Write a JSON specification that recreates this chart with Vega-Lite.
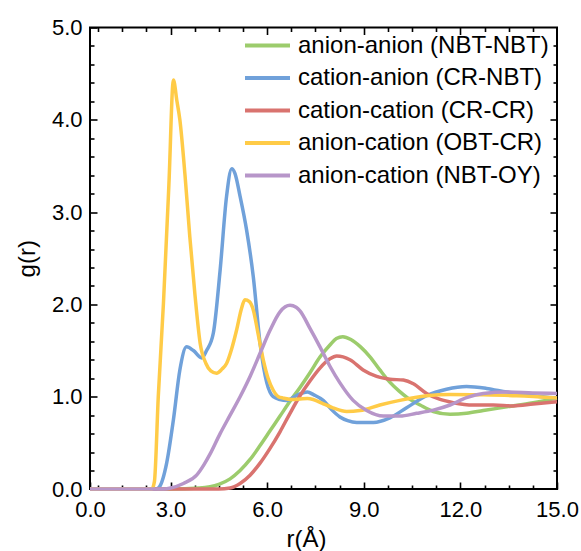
{
  "$schema": "https://vega.github.io/schema/vega-lite/v6.json",
  "width": 467,
  "height": 461.5,
  "autosize": {"type": "none"},
  "padding": {"left": 90, "top": 27.5, "right": 24, "bottom": 62},
  "config": {
    "font": "Liberation Sans",
    "view": {"stroke": "#000000", "strokeWidth": 2},
    "axis": {"grid": false, "domain": false, "ticks": true, "zindex": 2, "tickColor": "#000000", "tickWidth": 1.6, "tickOpacity": 1, "labelColor": "#000000", "titleColor": "#000000", "titleFontWeight": "normal"}
  },
  "data": {"values": [
      {"s": "anion-anion (NBT-NBT)", "r": 0.5, "g": 0},
      {"s": "anion-anion (NBT-NBT)", "r": 3.0, "g": 0},
      {"s": "anion-anion (NBT-NBT)", "r": 3.9, "g": 0.01},
      {"s": "anion-anion (NBT-NBT)", "r": 4.5, "g": 0.05},
      {"s": "anion-anion (NBT-NBT)", "r": 4.85, "g": 0.11},
      {"s": "anion-anion (NBT-NBT)", "r": 5.16, "g": 0.2},
      {"s": "anion-anion (NBT-NBT)", "r": 5.47, "g": 0.32},
      {"s": "anion-anion (NBT-NBT)", "r": 5.78, "g": 0.47},
      {"s": "anion-anion (NBT-NBT)", "r": 6.09, "g": 0.63},
      {"s": "anion-anion (NBT-NBT)", "r": 6.4, "g": 0.79},
      {"s": "anion-anion (NBT-NBT)", "r": 6.71, "g": 0.95},
      {"s": "anion-anion (NBT-NBT)", "r": 7.02, "g": 1.1},
      {"s": "anion-anion (NBT-NBT)", "r": 7.33, "g": 1.26},
      {"s": "anion-anion (NBT-NBT)", "r": 7.64, "g": 1.43},
      {"s": "anion-anion (NBT-NBT)", "r": 7.95, "g": 1.56},
      {"s": "anion-anion (NBT-NBT)", "r": 8.15, "g": 1.63},
      {"s": "anion-anion (NBT-NBT)", "r": 8.35, "g": 1.65},
      {"s": "anion-anion (NBT-NBT)", "r": 8.6, "g": 1.62},
      {"s": "anion-anion (NBT-NBT)", "r": 8.9, "g": 1.54},
      {"s": "anion-anion (NBT-NBT)", "r": 9.2, "g": 1.43},
      {"s": "anion-anion (NBT-NBT)", "r": 9.5, "g": 1.29},
      {"s": "anion-anion (NBT-NBT)", "r": 9.8, "g": 1.16},
      {"s": "anion-anion (NBT-NBT)", "r": 10.1, "g": 1.06},
      {"s": "anion-anion (NBT-NBT)", "r": 10.35, "g": 0.99},
      {"s": "anion-anion (NBT-NBT)", "r": 10.75, "g": 0.91},
      {"s": "anion-anion (NBT-NBT)", "r": 11.16, "g": 0.84},
      {"s": "anion-anion (NBT-NBT)", "r": 11.68, "g": 0.81},
      {"s": "anion-anion (NBT-NBT)", "r": 12.19, "g": 0.82},
      {"s": "anion-anion (NBT-NBT)", "r": 12.71, "g": 0.85},
      {"s": "anion-anion (NBT-NBT)", "r": 13.44, "g": 0.89},
      {"s": "anion-anion (NBT-NBT)", "r": 14.26, "g": 0.935},
      {"s": "anion-anion (NBT-NBT)", "r": 15.0, "g": 0.985},

      {"s": "cation-anion (CR-NBT)", "r": 0.5, "g": 0},
      {"s": "cation-anion (CR-NBT)", "r": 2.55, "g": 0},
      {"s": "cation-anion (CR-NBT)", "r": 2.65, "g": 0.02},
      {"s": "cation-anion (CR-NBT)", "r": 2.88, "g": 0.28},
      {"s": "cation-anion (CR-NBT)", "r": 3.09, "g": 0.75},
      {"s": "cation-anion (CR-NBT)", "r": 3.29, "g": 1.29},
      {"s": "cation-anion (CR-NBT)", "r": 3.5, "g": 1.54},
      {"s": "cation-anion (CR-NBT)", "r": 3.71, "g": 1.5},
      {"s": "cation-anion (CR-NBT)", "r": 3.97, "g": 1.42},
      {"s": "cation-anion (CR-NBT)", "r": 4.12, "g": 1.5},
      {"s": "cation-anion (CR-NBT)", "r": 4.33, "g": 1.69},
      {"s": "cation-anion (CR-NBT)", "r": 4.54, "g": 2.37},
      {"s": "cation-anion (CR-NBT)", "r": 4.74, "g": 3.17},
      {"s": "cation-anion (CR-NBT)", "r": 4.9, "g": 3.47},
      {"s": "cation-anion (CR-NBT)", "r": 5.0, "g": 3.42},
      {"s": "cation-anion (CR-NBT)", "r": 5.16, "g": 3.17},
      {"s": "cation-anion (CR-NBT)", "r": 5.36, "g": 2.81},
      {"s": "cation-anion (CR-NBT)", "r": 5.57, "g": 2.3},
      {"s": "cation-anion (CR-NBT)", "r": 5.78, "g": 1.58},
      {"s": "cation-anion (CR-NBT)", "r": 5.99, "g": 1.15},
      {"s": "cation-anion (CR-NBT)", "r": 6.19, "g": 1.0},
      {"s": "cation-anion (CR-NBT)", "r": 6.4, "g": 0.97},
      {"s": "cation-anion (CR-NBT)", "r": 6.61, "g": 0.96},
      {"s": "cation-anion (CR-NBT)", "r": 6.8, "g": 0.99},
      {"s": "cation-anion (CR-NBT)", "r": 7.02, "g": 1.03},
      {"s": "cation-anion (CR-NBT)", "r": 7.25, "g": 1.05},
      {"s": "cation-anion (CR-NBT)", "r": 7.45, "g": 1.02},
      {"s": "cation-anion (CR-NBT)", "r": 7.74, "g": 0.96},
      {"s": "cation-anion (CR-NBT)", "r": 8.0, "g": 0.86},
      {"s": "cation-anion (CR-NBT)", "r": 8.26, "g": 0.78},
      {"s": "cation-anion (CR-NBT)", "r": 8.5, "g": 0.74},
      {"s": "cation-anion (CR-NBT)", "r": 8.78, "g": 0.72},
      {"s": "cation-anion (CR-NBT)", "r": 9.3, "g": 0.72},
      {"s": "cation-anion (CR-NBT)", "r": 9.81, "g": 0.77},
      {"s": "cation-anion (CR-NBT)", "r": 10.33, "g": 0.88},
      {"s": "cation-anion (CR-NBT)", "r": 10.95, "g": 1.01},
      {"s": "cation-anion (CR-NBT)", "r": 11.57, "g": 1.08},
      {"s": "cation-anion (CR-NBT)", "r": 12.19, "g": 1.11},
      {"s": "cation-anion (CR-NBT)", "r": 12.81, "g": 1.09},
      {"s": "cation-anion (CR-NBT)", "r": 13.44, "g": 1.05},
      {"s": "cation-anion (CR-NBT)", "r": 14.25, "g": 1.01},
      {"s": "cation-anion (CR-NBT)", "r": 15.0, "g": 0.985},

      {"s": "cation-cation (CR-CR)", "r": 0.5, "g": 0},
      {"s": "cation-cation (CR-CR)", "r": 4.5, "g": 0},
      {"s": "cation-cation (CR-CR)", "r": 4.85, "g": 0.01},
      {"s": "cation-cation (CR-CR)", "r": 5.16, "g": 0.06},
      {"s": "cation-cation (CR-CR)", "r": 5.47, "g": 0.15},
      {"s": "cation-cation (CR-CR)", "r": 5.78, "g": 0.28},
      {"s": "cation-cation (CR-CR)", "r": 6.09, "g": 0.44},
      {"s": "cation-cation (CR-CR)", "r": 6.4, "g": 0.62},
      {"s": "cation-cation (CR-CR)", "r": 6.71, "g": 0.82},
      {"s": "cation-cation (CR-CR)", "r": 7.02, "g": 1.01},
      {"s": "cation-cation (CR-CR)", "r": 7.33, "g": 1.17},
      {"s": "cation-cation (CR-CR)", "r": 7.64, "g": 1.31},
      {"s": "cation-cation (CR-CR)", "r": 7.95, "g": 1.41},
      {"s": "cation-cation (CR-CR)", "r": 8.16, "g": 1.44},
      {"s": "cation-cation (CR-CR)", "r": 8.57, "g": 1.4},
      {"s": "cation-cation (CR-CR)", "r": 8.98, "g": 1.29},
      {"s": "cation-cation (CR-CR)", "r": 9.4, "g": 1.22},
      {"s": "cation-cation (CR-CR)", "r": 9.81, "g": 1.19},
      {"s": "cation-cation (CR-CR)", "r": 10.23, "g": 1.18},
      {"s": "cation-cation (CR-CR)", "r": 10.54, "g": 1.14},
      {"s": "cation-cation (CR-CR)", "r": 10.95, "g": 1.035},
      {"s": "cation-cation (CR-CR)", "r": 11.37, "g": 0.97},
      {"s": "cation-cation (CR-CR)", "r": 11.78, "g": 0.935},
      {"s": "cation-cation (CR-CR)", "r": 12.4, "g": 0.91},
      {"s": "cation-cation (CR-CR)", "r": 13.02, "g": 0.91},
      {"s": "cation-cation (CR-CR)", "r": 13.64, "g": 0.9},
      {"s": "cation-cation (CR-CR)", "r": 14.26, "g": 0.92},
      {"s": "cation-cation (CR-CR)", "r": 15.0, "g": 0.945},

      {"s": "anion-cation (OBT-CR)", "r": 0.5, "g": 0},
      {"s": "anion-cation (OBT-CR)", "r": 2.42, "g": 0},
      {"s": "anion-cation (OBT-CR)", "r": 2.5, "g": 0.08},
      {"s": "anion-cation (OBT-CR)", "r": 2.62, "g": 1.0},
      {"s": "anion-cation (OBT-CR)", "r": 2.78, "g": 2.01},
      {"s": "anion-cation (OBT-CR)", "r": 2.95, "g": 3.3},
      {"s": "anion-cation (OBT-CR)", "r": 3.09, "g": 4.43},
      {"s": "anion-cation (OBT-CR)", "r": 3.2, "g": 4.2},
      {"s": "anion-cation (OBT-CR)", "r": 3.29, "g": 4.0},
      {"s": "anion-cation (OBT-CR)", "r": 3.45, "g": 3.4},
      {"s": "anion-cation (OBT-CR)", "r": 3.6, "g": 2.73},
      {"s": "anion-cation (OBT-CR)", "r": 3.76, "g": 2.1},
      {"s": "anion-cation (OBT-CR)", "r": 3.92, "g": 1.58},
      {"s": "anion-cation (OBT-CR)", "r": 4.1, "g": 1.36},
      {"s": "anion-cation (OBT-CR)", "r": 4.25, "g": 1.28},
      {"s": "anion-cation (OBT-CR)", "r": 4.43, "g": 1.255},
      {"s": "anion-cation (OBT-CR)", "r": 4.6, "g": 1.3},
      {"s": "anion-cation (OBT-CR)", "r": 4.74, "g": 1.36},
      {"s": "anion-cation (OBT-CR)", "r": 4.9, "g": 1.52},
      {"s": "anion-cation (OBT-CR)", "r": 5.05, "g": 1.72},
      {"s": "anion-cation (OBT-CR)", "r": 5.2, "g": 1.95},
      {"s": "anion-cation (OBT-CR)", "r": 5.31, "g": 2.05},
      {"s": "anion-cation (OBT-CR)", "r": 5.45, "g": 2.03},
      {"s": "anion-cation (OBT-CR)", "r": 5.57, "g": 1.94},
      {"s": "anion-cation (OBT-CR)", "r": 5.72, "g": 1.68},
      {"s": "anion-cation (OBT-CR)", "r": 5.88, "g": 1.4},
      {"s": "anion-cation (OBT-CR)", "r": 6.03, "g": 1.2},
      {"s": "anion-cation (OBT-CR)", "r": 6.19, "g": 1.07},
      {"s": "anion-cation (OBT-CR)", "r": 6.35, "g": 1.0},
      {"s": "anion-cation (OBT-CR)", "r": 6.5, "g": 0.985},
      {"s": "anion-cation (OBT-CR)", "r": 6.75, "g": 0.97},
      {"s": "anion-cation (OBT-CR)", "r": 7.02, "g": 0.975},
      {"s": "anion-cation (OBT-CR)", "r": 7.25, "g": 0.98},
      {"s": "anion-cation (OBT-CR)", "r": 7.43, "g": 0.97},
      {"s": "anion-cation (OBT-CR)", "r": 7.7, "g": 0.93},
      {"s": "anion-cation (OBT-CR)", "r": 8.04, "g": 0.88},
      {"s": "anion-cation (OBT-CR)", "r": 8.47, "g": 0.84},
      {"s": "anion-cation (OBT-CR)", "r": 8.88, "g": 0.85},
      {"s": "anion-cation (OBT-CR)", "r": 9.5, "g": 0.91},
      {"s": "anion-cation (OBT-CR)", "r": 10.12, "g": 0.96},
      {"s": "anion-cation (OBT-CR)", "r": 10.95, "g": 1.01},
      {"s": "anion-cation (OBT-CR)", "r": 11.68, "g": 1.025},
      {"s": "anion-cation (OBT-CR)", "r": 12.7, "g": 1.02},
      {"s": "anion-cation (OBT-CR)", "r": 13.75, "g": 1.01},
      {"s": "anion-cation (OBT-CR)", "r": 15.0, "g": 0.985},

      {"s": "anion-cation (NBT-OY)", "r": 0.5, "g": 0},
      {"s": "anion-cation (NBT-OY)", "r": 2.8, "g": 0},
      {"s": "anion-cation (NBT-OY)", "r": 3.0, "g": 0.01},
      {"s": "anion-cation (NBT-OY)", "r": 3.4, "g": 0.06},
      {"s": "anion-cation (NBT-OY)", "r": 3.81, "g": 0.15},
      {"s": "anion-cation (NBT-OY)", "r": 4.05, "g": 0.27},
      {"s": "anion-cation (NBT-OY)", "r": 4.23, "g": 0.38},
      {"s": "anion-cation (NBT-OY)", "r": 4.54, "g": 0.6},
      {"s": "anion-cation (NBT-OY)", "r": 4.85, "g": 0.8},
      {"s": "anion-cation (NBT-OY)", "r": 5.16, "g": 1.0},
      {"s": "anion-cation (NBT-OY)", "r": 5.47, "g": 1.22},
      {"s": "anion-cation (NBT-OY)", "r": 5.78, "g": 1.47},
      {"s": "anion-cation (NBT-OY)", "r": 6.09, "g": 1.72},
      {"s": "anion-cation (NBT-OY)", "r": 6.4, "g": 1.92},
      {"s": "anion-cation (NBT-OY)", "r": 6.71, "g": 1.99},
      {"s": "anion-cation (NBT-OY)", "r": 6.9, "g": 1.97},
      {"s": "anion-cation (NBT-OY)", "r": 7.02, "g": 1.93},
      {"s": "anion-cation (NBT-OY)", "r": 7.33, "g": 1.74},
      {"s": "anion-cation (NBT-OY)", "r": 7.64, "g": 1.54},
      {"s": "anion-cation (NBT-OY)", "r": 7.95, "g": 1.33},
      {"s": "anion-cation (NBT-OY)", "r": 8.26, "g": 1.15},
      {"s": "anion-cation (NBT-OY)", "r": 8.67, "g": 0.96},
      {"s": "anion-cation (NBT-OY)", "r": 9.09, "g": 0.85},
      {"s": "anion-cation (NBT-OY)", "r": 9.61, "g": 0.79},
      {"s": "anion-cation (NBT-OY)", "r": 10.12, "g": 0.79},
      {"s": "anion-cation (NBT-OY)", "r": 10.64, "g": 0.82},
      {"s": "anion-cation (NBT-OY)", "r": 11.16, "g": 0.855},
      {"s": "anion-cation (NBT-OY)", "r": 11.68, "g": 0.91},
      {"s": "anion-cation (NBT-OY)", "r": 12.19, "g": 0.99},
      {"s": "anion-cation (NBT-OY)", "r": 12.71, "g": 1.035},
      {"s": "anion-cation (NBT-OY)", "r": 13.44, "g": 1.05},
      {"s": "anion-cation (NBT-OY)", "r": 14.25, "g": 1.04},
      {"s": "anion-cation (NBT-OY)", "r": 15.0, "g": 1.035}
  ]},
  "resolve": {"axis": {"x": "independent", "y": "independent"}},
  "layer": [
    {
      "mark": {"type": "line", "strokeWidth": 3.5, "interpolate": "monotone"},
      "encoding": {
        "x": {"field": "r", "type": "quantitative", "scale": {"domain": [0.5, 15], "nice": false, "zero": false},
          "axis": {"orient": "bottom", "values": [0.5, 3, 6, 9, 12, 15], "labelExpr": "datum.value < 1 ? '0.0' : format(datum.value, '.1f')", "ticks": true, "tickSize": -7, "labelFontSize": 22, "labelPadding": 17, "labelFlush": false, "title": "r(Å)", "titleFontSize": 24, "titlePadding": 7, "titleX": 216}},
        "y": {"field": "g", "type": "quantitative", "scale": {"domain": [0, 5], "nice": false},
          "axis": {"orient": "left", "values": [0, 1, 2, 3, 4, 5], "format": ".1f", "ticks": true, "tickSize": -7, "labelFontSize": 22, "labelPadding": 15, "labelFlush": false, "title": "g(r)", "titleFontSize": 24, "titlePadding": 12}},
        "color": {"field": "s", "type": "nominal", "sort": null,
          "scale": {"domain": ["anion-anion (NBT-NBT)", "cation-anion (CR-NBT)", "cation-cation (CR-CR)", "anion-cation (OBT-CR)", "anion-cation (NBT-OY)"],
                    "range": ["#9CCC6C", "#70A1DA", "#D9736F", "#FFCB47", "#B796C9"]},
          "legend": {"title": null, "orient": "none", "legendX": 153, "legendY": 4, "symbolType": "stroke", "symbolSize": 2025, "symbolStrokeWidth": 4, "labelFontSize": 24, "labelColor": "#000000", "labelOffset": 6, "clipHeight": 28, "rowPadding": 4.5, "padding": 0, "labelLimit": 400}}
      }
    },
    {
      "mark": {"type": "point", "opacity": 0},
      "encoding": {
        "x": {"field": "r", "type": "quantitative", "axis": {"orient": "bottom", "values": [0.75, 1.5, 2.25, 3.75, 4.5, 5.25, 6.75, 7.5, 8.25, 9.75, 10.5, 11.25, 12.75, 13.5, 14.25], "ticks": true, "tickSize": 4, "offset": -4, "labelExpr": "''", "title": null}},
        "y": {"field": "g", "type": "quantitative", "axis": {"orient": "left", "values": [0.2, 0.4, 0.6, 0.8, 1.2, 1.4, 1.6, 1.8, 2.2, 2.4, 2.6, 2.8, 3.2, 3.4, 3.6, 3.8, 4.2, 4.4, 4.6, 4.8], "ticks": true, "tickSize": 4, "offset": -4, "labelExpr": "''", "title": null}}
      }
    },
    {
      "mark": {"type": "point", "opacity": 0},
      "encoding": {
        "x": {"field": "r", "type": "quantitative", "axis": {"orient": "top", "values": [3, 6, 9, 12], "ticks": true, "tickSize": 7, "offset": -7, "labelExpr": "''", "title": null}},
        "y": {"field": "g", "type": "quantitative", "axis": {"orient": "right", "values": [1, 2, 3, 4], "ticks": true, "tickSize": 7, "offset": -7, "labelExpr": "''", "title": null}}
      }
    },
    {
      "mark": {"type": "point", "opacity": 0},
      "encoding": {
        "x": {"field": "r", "type": "quantitative", "axis": {"orient": "top", "values": [0.75, 1.5, 2.25, 3.75, 4.5, 5.25, 6.75, 7.5, 8.25, 9.75, 10.5, 11.25, 12.75, 13.5, 14.25], "ticks": true, "tickSize": 4, "offset": -4, "labelExpr": "''", "title": null}},
        "y": {"field": "g", "type": "quantitative", "axis": {"orient": "right", "values": [0.2, 0.4, 0.6, 0.8, 1.2, 1.4, 1.6, 1.8, 2.2, 2.4, 2.6, 2.8, 3.2, 3.4, 3.6, 3.8, 4.2, 4.4, 4.6, 4.8], "ticks": true, "tickSize": 4, "offset": -4, "labelExpr": "''", "title": null}}
      }
    }
  ]
}
